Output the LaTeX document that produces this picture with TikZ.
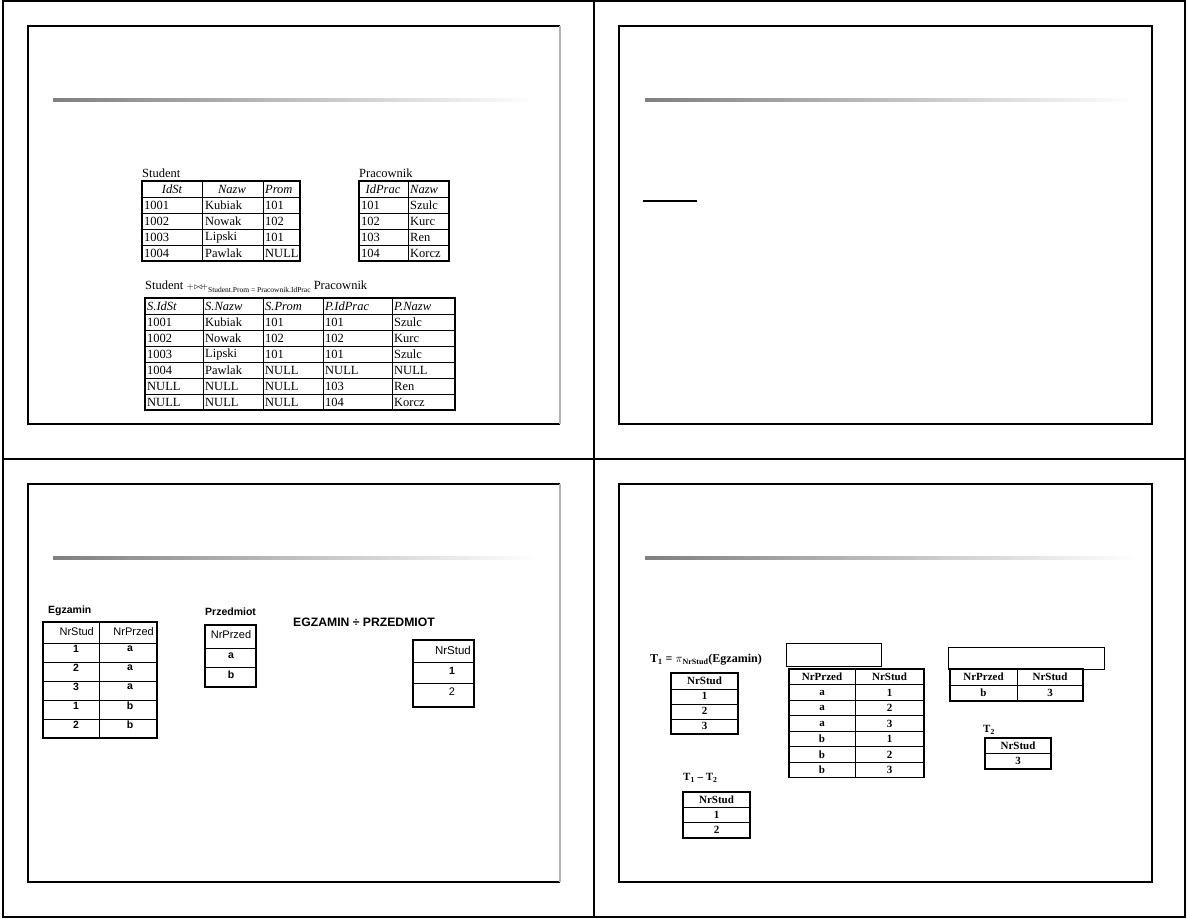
\documentclass[tikz,border=0pt]{standalone}
\usepackage{fontspec}
\setmainfont{Liberation Serif}
\setsansfont{Liberation Sans}
\usetikzlibrary{positioning}

\begin{document}
\begin{tikzpicture}[x=1pt, y=-1pt, line join=miter,
    frame/.style={line width=1.4pt},
    slidebox/.style={line width=1.2pt},
    tabout/.style={line width=1.6pt},
    tabin/.style={line width=0.7pt},
    ser/.style={font=\fontsize{12.5}{14}\selectfont, inner sep=0pt, anchor=west},
    serh/.style={ser, font=\fontsize{12.5}{14}\selectfont\itshape},
    sanl/.style={font=\sffamily\bfseries\fontsize{10.5}{12}\selectfont, inner sep=0pt, anchor=west},
    sanc/.style={font=\sffamily\fontsize{11}{13}\selectfont, inner sep=0pt},
    sanb/.style={font=\sffamily\bfseries\fontsize{10.5}{12}\selectfont, inner sep=0pt},
    serb/.style={font=\bfseries\fontsize{11}{13}\selectfont, inner sep=0pt}]
  \useasboundingbox (0,0) rectangle (1188,918);

  % page frame
  \draw[frame] (3,1) rectangle (1185,917);
  \draw[frame] (594,1) -- (594,917);
  \draw[frame] (3,459) -- (1185,459);

  % slide boxes
  \draw[slidebox] (560,26) -- (28,26) -- (28,424) -- (560,424);
  \draw[slidebox, gray!60] (560,26) -- (560,424);
  \draw[slidebox] (619,26) rectangle (1152,424);
  \draw[slidebox] (560,484) -- (28,484) -- (28,882) -- (560,882);
  \draw[slidebox, gray!60] (560,484) -- (560,882);
  \draw[slidebox] (619,484) rectangle (1152,882);

  % title rules
  \shade[left color=black!50, right color=white] (53,98.5) rectangle (535,101.5);
  \shade[left color=black!50, right color=white] (645,98.5) rectangle (1135,101.5);
  \shade[left color=black!50, right color=white] (53,556.5) rectangle (535,559.5);
  \shade[left color=black!50, right color=white] (645,556.5) rectangle (1135,559.5);
  \draw[line width=1.2pt] (643,201) -- (697,201);

  % ---- slide 1: outer join ----
  % student
  \node[ser] (student) at (142,173) {Student};
  \draw[tabin] (202,181) -- (202,261) (263,181) -- (263,261);
  \foreach \y in {197,213,229,245} \draw[tabin] (142,\y) -- (300,\y);
  \draw[tabout] (142,181) rectangle (300,261);
  \node[serh, anchor=center] (st-h1) at (172,189) {IdSt};
  \node[serh, anchor=center] (st-h2) at (232,189) {Nazw};
  \node[serh] (st-h3) at (265,189) {Prom};
  \foreach \a/\b/\c [count=\i] in {1001/Kubiak/101, 1002/Nowak/102, 1003/Lipski/101, 1004/Pawlak/NULL} {
    \node[ser] (st-\i-1) at (144,{189+16*\i}) {\a};
    \node[ser] (st-\i-2) at (205,{189+16*\i}) {\b};
    \node[ser] (st-\i-3) at (265,{189+16*\i}) {\c};
  }

  % pracownik
  \node[ser] (pracownik) at (359,173) {Pracownik};
  \draw[tabin] (408,181) -- (408,261);
  \foreach \y in {197,213,229,245} \draw[tabin] (359,\y) -- (449,\y);
  \draw[tabout] (359,181) rectangle (449,261);
  \node[serh, anchor=center] (pr-h1) at (383,189) {IdPrac};
  \node[serh] (pr-h2) at (410,189) {Nazw};
  \foreach \a/\b [count=\i] in {101/Szulc, 102/Kurc, 103/Ren, 104/Korcz} {
    \node[ser] (pr-\i-1) at (361,{189+16*\i}) {\a};
    \node[ser] (pr-\i-2) at (410,{189+16*\i}) {\b};
  }

  % result of the join
  \node[ser] (joinlbl) at (145,287) {Student {\small$+\!\triangleright\!\!\triangleleft\!+$}\raisebox{-3pt}{\fontsize{7.5}{9}\selectfont Student.Prom = Pracownik.IdPrac} Pracownik};
  \foreach \x in {203,263,323,392} \draw[tabin] (\x,298) -- (\x,410);
  \foreach \y in {314,330,...,394} \draw[tabin] (145,\y) -- (455,\y);
  \draw[tabout] (145,298) rectangle (455,410);
  \foreach \h/\x [count=\j] in {S.IdSt/147, S.Nazw/205, S.Prom/265, P.IdPrac/325, P.Nazw/394}
    \node[serh] (jn-h\j) at (\x,306) {\h};
  \foreach \a/\b/\c/\d/\e [count=\i] in {1001/Kubiak/101/101/Szulc, 1002/Nowak/102/102/Kurc,
      1003/Lipski/101/101/Szulc, 1004/Pawlak/NULL/NULL/NULL, NULL/NULL/NULL/103/Ren, NULL/NULL/NULL/104/Korcz} {
    \node[ser] (jn-\i-1) at (147,{306+16*\i}) {\a};
    \node[ser] (jn-\i-2) at (205,{306+16*\i}) {\b};
    \node[ser] (jn-\i-3) at (265,{306+16*\i}) {\c};
    \node[ser] (jn-\i-4) at (325,{306+16*\i}) {\d};
    \node[ser] (jn-\i-5) at (394,{306+16*\i}) {\e};
  }

  % ---- slide 3: division ----
  % egzamin
  \node[sanl] (egzamin) at (48,611) {Egzamin};
  \draw[tabin] (99,622) -- (99,738);
  \foreach \y in {643,662,681,700,719} \draw[tabin] (43,\y) -- (157,\y);
  \draw[tabout] (43,622) rectangle (157,738);
  \node[sanc, anchor=east] (eg-h1) at (94,632) {NrStud};
  \node[sanc, anchor=east] (eg-h2) at (154,632) {NrPrzed};
  \foreach \a/\b [count=\i] in {1/a, 2/a, 3/a, 1/b, 2/b} {
    \node[sanb] (eg-\i-1) at (76,{630+19*\i}) {\a};
    \node[sanb] (eg-\i-2) at (130,{630+19*\i}) {\b};
  }

  % przedmiot
  \node[sanl] (przedmiot) at (205,612) {Przedmiot};
  \draw[tabin] (205,648) -- (256,648) (205,667) -- (256,667);
  \draw[tabout] (205,625) rectangle (256,687);
  \node[sanc] (pz-h) at (231,635) {NrPrzed};
  \node[sanb] (pz-1) at (231,656) {a};
  \node[sanb] (pz-2) at (231,675) {b};

  % egzamin / przedmiot
  \node[sanl, font=\sffamily\bfseries\fontsize{12.2}{14}\selectfont] (divlbl) at (293,622) {EGZAMIN ÷ PRZEDMIOT};
  \draw[tabin] (413,662) -- (474,662) (413,683) -- (474,683);
  \draw[tabout] (413,640) rectangle (474,707);
  \node[sanc, anchor=east, font=\sffamily\fontsize{11.5}{13}\selectfont] (dv-h) at (471,650) {NrStud};
  \node[sanb] (dv-1) at (452,671) {1};
  \node[sanc] (dv-2) at (452,692) {2};

  % ---- slide 4: division step by step ----
  % T1
  \node[serb, anchor=west, font=\bfseries\fontsize{12}{14}\selectfont] (t1lbl) at (650,660)
    {T\textsubscript{1} = $\pi$\textsubscript{NrStud}(Egzamin)};
  \foreach \y in {689,704,719} \draw[tabin] (671,\y) -- (738,\y);
  \draw[tabout] (671,673) rectangle (738,734);
  \node[serb] (t1-h) at (704.5,681) {NrStud};
  \foreach \v [count=\i] in {1,2,3}
    \node[serb] (t1-\i) at (704.5,{681+15*\i}) {\v};

  % product
  \draw[tabin] (786,643) rectangle (881,666);
  \draw[tabin] (855,669) -- (855,777.5);
  \foreach \y in {684.5,700,715.5,731,746.5,762} \draw[tabin] (789,\y) -- (924,\y);
  \draw[tabout] (789,669) rectangle (924,777.5);
  \node[serb] (pd-h1) at (822,677) {NrPrzed};
  \node[serb] (pd-h2) at (889.5,677) {NrStud};
  \foreach \a/\b [count=\i] in {a/1, a/2, a/3, b/1, b/2, b/3} {
    \node[serb] (pd-\i-1) at (822,{677+15.5*\i}) {\a};
    \node[serb] (pd-\i-2) at (889.5,{677+15.5*\i}) {\b};
  }

  % missing pairs
  \draw[tabin] (948,647) rectangle (1104,669);
  \draw[tabin] (1017,669) -- (1017,701) (950,685) -- (1083,685);
  \draw[tabout] (950,669) rectangle (1083,701);
  \node[serb] (ms-h1) at (983.5,677) {NrPrzed};
  \node[serb] (ms-h2) at (1050,677) {NrStud};
  \node[serb] (ms-1) at (983.5,693) {b};
  \node[serb] (ms-2) at (1050,693) {3};

  % T2
  \node[serb, anchor=west] (t2lbl) at (983,730) {T\textsubscript{2}};
  \draw[tabin] (985,753) -- (1051,753);
  \draw[tabout] (985,738) rectangle (1051,769);
  \node[serb] (t2-h) at (1018,745.5) {NrStud};
  \node[serb] (t2-1) at (1018,761) {3};

  % T1 - T2
  \node[serb, anchor=west] (difflbl) at (683,778) {T\textsubscript{1} -- T\textsubscript{2}};
  \foreach \y in {807,822} \draw[tabin] (683,\y) -- (750,\y);
  \draw[tabout] (683,792) rectangle (750,838);
  \node[serb] (df-h) at (716.5,799.5) {NrStud};
  \node[serb] (df-1) at (716.5,814.5) {1};
  \node[serb] (df-2) at (716.5,830) {2};
\end{tikzpicture}
\end{document}
